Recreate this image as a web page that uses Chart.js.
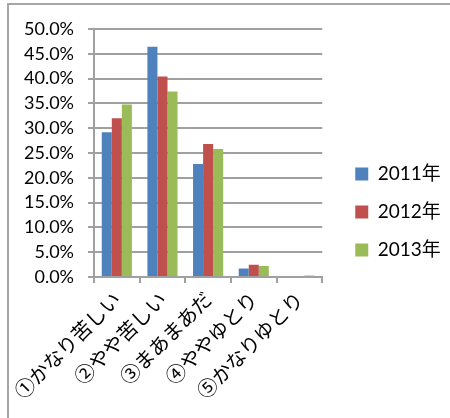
<!DOCTYPE html>
<html>
<head>
<meta charset="utf-8">
<script src="https://cdn.jsdelivr.net/npm/chart.js@4.4.1/dist/chart.umd.min.js"></script>
<style>
  html, body { margin: 0; padding: 0; background: #fff; }
  #wrap { position: relative; width: 450px; height: 418px; }
  #frame { position: absolute; left: 7px; top: 3px; right: 0; bottom: 0;
           border-top: 2px solid #a6a6a6; border-left: 2px solid #a6a6a6; pointer-events: none; }
  canvas { position: absolute; left: 0; top: 0; }
</style>
</head>
<body>
<div id="wrap">
  <canvas id="c" width="450" height="418"></canvas>
  <div id="frame"></div>
</div>
<script>
// Household finances: share of answers per year
const categories = ['①かなり苦しい', '②やや苦しい', '③まあまあだ', '④ややゆとり', '⑤かなりゆとり'];
const seriesNames = ['2011年', '2012年', '2013年'];
const values2011 = [29.2, 46.4, 22.8, 1.7, 0.2];
const values2012 = [32.0, 40.4, 26.8, 2.5, 0.0];
const values2013 = [34.8, 37.4, 25.8, 2.2, 0.3];
const colors = ['#4F81BD', '#C0504D', '#9BBB59'];

const gridColor = '#a0a0a0';
const latin = "Lato, 'Noto Sans CJK JP', sans-serif";
const cjk = "'Noto Sans CJK JP', sans-serif";

// Reserve a wider gap between the plot and the legend entries,
// and lift the legend block slightly above the vertical centre.
const LEGEND_GAP = 14;
const LEGEND_LIFT = 6;
const legendSpacer = {
  id: 'legendSpacer',
  beforeInit(chart) {
    const fit = chart.legend.fit;
    chart.legend.fit = function () {
      fit.call(this);
      this.width += LEGEND_GAP;
    };
  },
  afterLayout(chart) {
    const lg = chart.legend;
    lg.left += LEGEND_GAP;
    lg.right += LEGEND_GAP;
    lg.top -= LEGEND_LIFT;
    lg.bottom -= LEGEND_LIFT;
  }
};

new Chart(document.getElementById('c'), {
  type: 'bar',
  data: {
    labels: categories,
    datasets: [values2011, values2012, values2013].map((v, i) => ({
      label: seriesNames[i],
      data: v,
      backgroundColor: colors[i],
      borderWidth: 0,
      categoryPercentage: 0.66,
      barPercentage: 1.0
    }))
  },
  plugins: [legendSpacer],
  options: {
    responsive: false,
    animation: false,
    layout: { padding: { left: 10, top: 29, right: 5, bottom: 11 } },
    plugins: {
      tooltip: { enabled: false },
      legend: {
        position: 'right',
        labels: {
          boxWidth: 13,
          boxHeight: 13,
          padding: 19,
          color: '#000',
          font: { family: latin, size: 19 }
        }
      }
    },
    scales: {
      x: {
        offset: true,
        grid: { display: true, drawOnChartArea: false, offset: true, tickLength: 6, color: gridColor, lineWidth: 2 },
        border: { color: gridColor, width: 2 },
        ticks: {
          maxRotation: 45, minRotation: 45, autoSkip: false, padding: 4,
          color: '#000', font: { family: cjk, size: 20 }
        }
      },
      y: {
        min: 0, max: 50,
        grid: { color: gridColor, lineWidth: 2, tickLength: 6 },
        border: { color: gridColor, width: 2 },
        ticks: {
          stepSize: 5, padding: 14, color: '#000',
          font: { family: latin, size: 18 },
          callback: v => v.toFixed(1) + '%'
        }
      }
    }
  }
});
</script>
</body>
</html>
